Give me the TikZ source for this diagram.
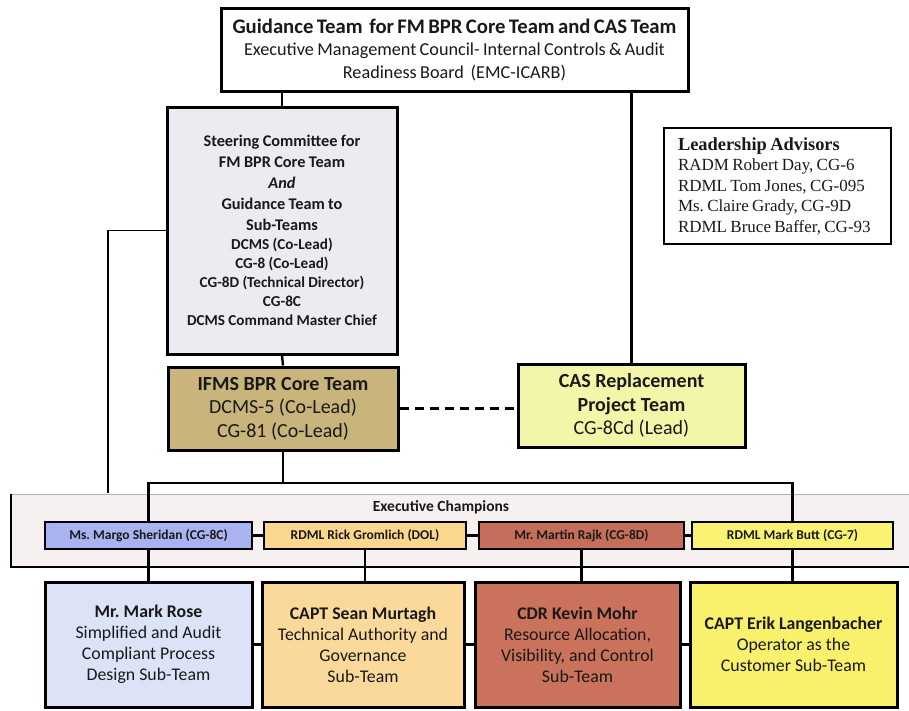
\documentclass[tikz,border=0pt]{standalone}
\usepackage{fontspec}
\setmainfont{Carlito}
\newfontfamily\advisorfont{Liberation Serif}

\definecolor{steerfill}{HTML}{EEEAF2}
\definecolor{corefill}{HTML}{C9B57B}
\definecolor{casfill}{HTML}{F3F5A9}
\definecolor{bandfill}{HTML}{F6F0F1}
\definecolor{bluefill}{HTML}{A9B3EF}
\definecolor{orangefill}{HTML}{FBD68F}
\definecolor{brickfill}{HTML}{C56E5B}
\definecolor{yellowfill}{HTML}{F9F273}
\definecolor{paleblue}{HTML}{DCE3F7}
\definecolor{palepeach}{HTML}{FAD99B}
\definecolor{palebrick}{HTML}{CA725B}
\definecolor{paleyellow}{HTML}{F9F16B}

\begin{document}
\frenchspacing
\begin{tikzpicture}[x=1pt, y=-1pt,
	every node/.style={align=center, text=black!90},
	box/.style={draw, line width=3pt, inner sep=0pt},
	champ/.style={box, line width=2pt, minimum height=27pt, font=\fontsize{13.5}{15}\selectfont\bfseries},
	subteam/.style={box, minimum height=125pt, font=\fontsize{17.8}{21}\selectfont},
	link/.style={line width=2.4pt}]
	\useasboundingbox (0,0) rectangle (909,710);
	% band behind the champions
	\fill[bandfill] (11,494) rectangle (909,567);
	\draw[black!30, line width=0.8pt] (11,494) -- (909,494);
	\draw[line width=1.6pt] (11,494) -- (11,567) -- (909,567);
	\node[font=\fontsize{15.5}{17}\selectfont\bfseries] (champs) at (441,507) {Executive Champions};

	\node[box, minimum width=467pt, minimum height=83pt, text width=460pt] (guide) at (454.5,49.5)
		{\fontsize{20.7}{24}\selectfont\bfseries Guidance Team\ \ for FM BPR Core Team and CAS Team\par
		\fontsize{18.2}{22.5}\selectfont\mdseries Executive Management Council- Internal Controls \& Audit\\ Readiness Board\ \ (EMC-ICARB)\par};
	\node[box, fill=steerfill, minimum width=230pt, minimum height=247pt, text width=224pt] (steer) at (282,230.5)
		{\fontsize{16.3}{21}\selectfont\bfseries Steering Committee for\\ FM BPR Core Team\\ \textit{And}\\ Guidance Team to\\ Sub-Teams\par
		\fontsize{15.2}{19}\selectfont DCMS (Co-Lead)\\ CG-8 (Co-Lead)\\ CG-8D (Technical Director)\\ CG-8C\\ DCMS Command Master Chief\par};
	\node[box, fill=corefill, minimum width=230pt, minimum height=83pt, font=\fontsize{20}{23.5}\selectfont] (core) at (283,408.5)
		{\textbf{IFMS BPR Core Team}\\ DCMS-5 (Co-Lead)\\ CG-81 (Co-Lead)};
	\node[box, fill=casfill, minimum width=227pt, minimum height=83pt, font=\fontsize{20}{23.5}\selectfont] (cas) at (631.5,405.5)
		{\textbf{CAS Replacement}\\ \textbf{Project Team}\\ CG-8Cd (Lead)};
	\node[box, line width=2pt, minimum width=227pt, minimum height=116pt, align=left, text width=199pt] (advisors) at (777.5,186)
		{\advisorfont\fontsize{18.4}{20.5}\selectfont\bfseries Leadership Advisors\par
		\fontsize{17}{20.5}\selectfont\mdseries RADM Robert Day, CG-6\\ RDML Tom Jones, CG-095\\ Ms. Claire Grady, CG-9D\\ RDML Bruce Baffer, CG-93\par};

	\node[champ, fill=bluefill, minimum width=207pt] (margo) at (148.5,535.5) {Ms. Margo Sheridan (CG-8C)};
	\node[champ, fill=orangefill, minimum width=202pt] (rick) at (365,535.5) {RDML Rick Gromlich (DOL)};
	\node[champ, fill=brickfill, minimum width=205pt] (martin) at (581.5,535.5) {Mr. Martin Rajk (CG-8D)};
	\node[champ, fill=yellowfill, minimum width=201pt] (butt) at (792.5,535.5) {RDML Mark Butt (CG-7)};

	\node[subteam, fill=paleblue, minimum width=207pt] (rose) at (148.5,644.5)
		{\textbf{Mr. Mark Rose}\\ Simplified and Audit\\ Compliant Process\\ Design Sub-Team};
	\node[subteam, fill=palepeach, minimum width=202pt] (sean) at (363,644.5)
		{\textbf{CAPT Sean Murtagh}\\ Technical Authority and\\ Governance\\ Sub-Team};
	\node[subteam, fill=palebrick, minimum width=205pt] (kevin) at (577.5,644.5)
		{\textbf{CDR Kevin Mohr}\\ Resource Allocation,\\ Visibility, and Control\\ Sub-Team};
	\node[subteam, fill=paleyellow, minimum width=207pt] (erik) at (793.5,644.5)
		{\textbf{CAPT Erik Langenbacher}\\ Operator as the\\ Customer Sub-Team};

	\coordinate (split) at (283,483);
	\coordinate (loose) at (108,493);

	\draw[link] (steer.north) -- (steer.north |- guide.south);
	\draw[link] (cas.north) -- (cas.north |- guide.south);
	\draw[link] (steer.south) -- (core.north);
	\draw[link, line width=3pt, dash pattern=on 9pt off 6pt] (core.east) -- (core.east -| cas.west);
	\draw[line width=1.8pt] (steer.west) -| (loose);
	\draw[link] (core.south) -- (split);
	\draw[link] (margo.north) |- (split) -| (butt.north);
	\draw[link] (margo.south) -- (margo.south |- rose.north);
	\draw[link] (rick.south) -- (rick.south |- sean.north);
	\draw[link] (martin.south) -- (martin.south |- kevin.north);
	\draw[link] (butt.south) -- (butt.south |- erik.north);
	\draw[link] (margo.east) -- (rick.west);
	\draw[link] (rick.east) -- (martin.west);
	\draw[link] (martin.east) -- (butt.west);
	\draw[link] (rose.east) -- (sean.west);
	\draw[link] (sean.east) -- (kevin.west);
	\draw[link] (kevin.east) -- (erik.west);
\end{tikzpicture}
\end{document}
